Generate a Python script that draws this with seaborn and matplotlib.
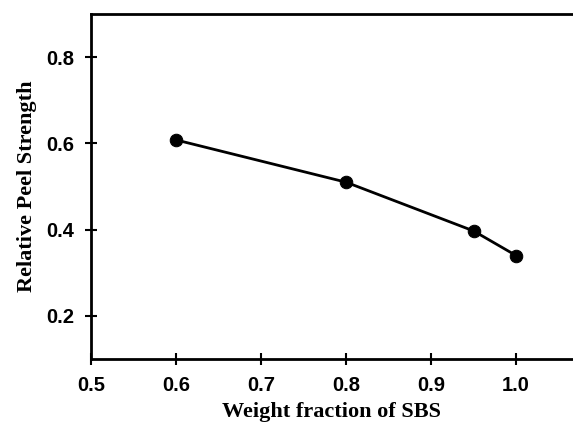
import matplotlib
matplotlib.use("Agg")
import matplotlib.pyplot as plt
import seaborn as sns
import pandas as pd

weight_fraction = [0.6, 0.8, 0.95, 1.0]
peel_strength = [0.608, 0.510, 0.397, 0.340]
x_ticks = [0.5, 0.6, 0.7, 0.8, 0.9, 1.0]
y_ticks = [0.2, 0.4, 0.6, 0.8]

sns.set_style("white")
plt.rcParams["font.family"] = ["Liberation Sans", "DejaVu Sans"]
df = pd.DataFrame({"w": weight_fraction, "p": peel_strength})

fig = plt.figure(figsize=(5.73, 4.24), dpi=100)
ax = fig.add_axes([91/573, 1-359/424, 1-91/573, (359-14)/424])
sns.lineplot(data=df, x="w", y="p", ax=ax, color="black", linewidth=2,
             marker="o", markersize=9, markeredgecolor="black", markerfacecolor="black")

ax.set_xlim(0.5, 1.067)
ax.set_ylim(0.1, 0.9)
ax.set_xticks(x_ticks)
ax.set_yticks(y_ticks)
ax.set_xticklabels([f"{t:.1f}" for t in x_ticks])
ax.set_yticklabels([f"{t:.1f}" for t in y_ticks])
for lab in ax.get_xticklabels() + ax.get_yticklabels():
    lab.set_fontweight("bold")
    lab.set_fontsize(14.5)
    lab.set_color("black")
ax.tick_params(bottom=True, left=True, direction="inout", length=8, width=1.5, color="black", pad=8)
for s in ["left", "bottom", "top"]:
    ax.spines[s].set_color("black")
    ax.spines[s].set_linewidth(2)
ax.spines["right"].set_visible(False)
ax.set_xlabel("Weight fraction of SBS", fontfamily="Liberation Serif", fontweight="bold", fontsize=16, labelpad=5, color="black")
ax.set_ylabel("Relative Peel Strength", fontfamily="Liberation Serif", fontweight="bold", fontsize=16, labelpad=7, color="black")

fig.savefig("out.png", dpi=100)
